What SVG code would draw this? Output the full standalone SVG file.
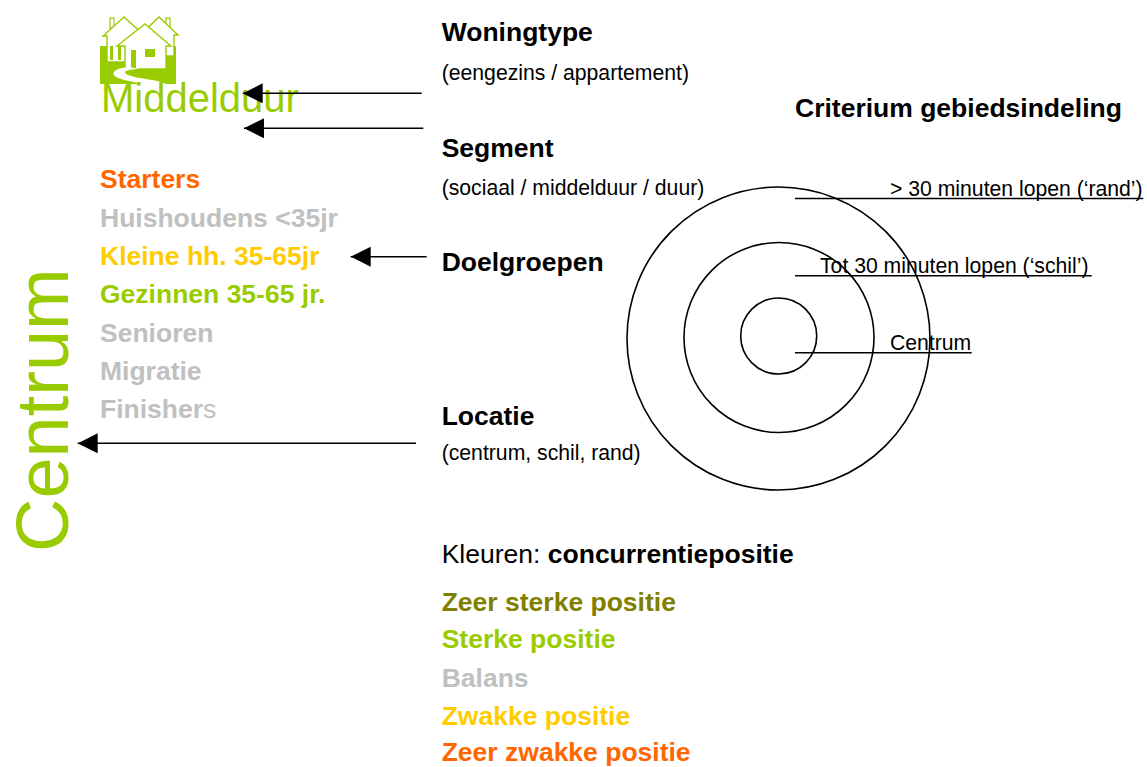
<svg xmlns="http://www.w3.org/2000/svg" width="1147" height="767" viewBox="0 0 1147 767">
<style>
text{font-family:"Liberation Sans",Arial,sans-serif;}
.b{font-weight:bold;font-size:26.5px;}
.r{font-size:21.2px;fill:#000;}
.k{fill:#000;}
.or{fill:#FF6600;}
.gr{fill:#C0C0C0;}
.ye{fill:#FFCC00;}
.gn{fill:#99CC00;}
.ol{fill:#808000;}
.ring{fill:none;stroke:#000;stroke-width:1.6;}
.ul{stroke:#000;stroke-width:1.6;}
.arr{stroke:#000;stroke-width:1.6;fill:none;marker-end:url(#ah);}
</style>
<defs>
<marker id="ah" markerUnits="userSpaceOnUse" markerWidth="20" markerHeight="20" refX="20" refY="10" orient="auto">
<path d="M0,0 L20,10 L0,20 Z" fill="#000"/>
</marker>
</defs>
<rect width="1147" height="767" fill="#fff"/>

<g id="logo">
<rect x="100" y="46" width="76" height="38" fill="#99CC00"/>
<rect x="110" y="18" width="4" height="10" fill="#fff" stroke="#99CC00" stroke-width="1.2"/>
<polygon points="103,36 124,17 145,36 141,36 141,62 107,62 107,36" fill="#fff" stroke="#99CC00" stroke-width="1.4"/>
<rect x="166" y="18" width="4" height="10" fill="#fff" stroke="#99CC00" stroke-width="1.2"/>
<polygon points="140,35 159,17 178,35 174,35 174,56 144,56 144,35" fill="#fff" stroke="#99CC00" stroke-width="1.4"/>
<polygon points="117,46 145,24 171,46 166,46 166,69 125,69 125,46" fill="#fff" stroke="#99CC00" stroke-width="1.4"/>
<rect x="145" y="49" width="10" height="8" fill="#99CC00"/>
<rect x="131" y="50" width="5" height="19" fill="#99CC00"/>
<rect x="110" y="46" width="3" height="14" fill="#99CC00"/>
<rect x="118" y="46" width="3" height="14" fill="#99CC00"/>
<path d="M114,72 C118,66 134,67 140,69 C130,69 120,71 128,75 C138,79 156,79 166,84 L142,84 C132,81 110,79 114,72 Z" fill="#fff"/>
</g>

<g id="middelduur"><text x="101" y="111.7" font-size="40" class="gn">Middelduur</text></g>
<g id="centrum-vertical"><text transform="translate(68,552) rotate(-90)" font-size="74" class="gn">Centrum</text></g>

<g id="doelgroepen-list">
<text x="100" y="188.3" class="b or">Starters</text>
<text x="100" y="226.7" class="b gr">Huishoudens &lt;35jr</text>
<text x="100" y="265" class="b ye">Kleine hh. 35-65jr</text>
<text x="100" y="303.3" class="b gn">Gezinnen 35-65 jr.</text>
<text x="100" y="341.7" class="b gr">Senioren</text>
<text x="100" y="380" class="b gr">Migratie</text>
<text x="100" y="418.3" class="b gr">Finisher<tspan font-weight="normal">s</tspan></text>
</g>

<g id="woningtype">
<text x="441.7" y="40.7" class="b k">Woningtype</text>
<text x="441.7" y="80" class="r">(eengezins / appartement)</text>
</g>
<g id="segment">
<text x="441.7" y="156.7" class="b k">Segment</text>
<text x="441.7" y="195" class="r">(sociaal / middelduur / duur)</text>
</g>
<g id="doelgroepen">
<text x="441.7" y="270.7" class="b k">Doelgroepen</text>
</g>
<g id="locatie">
<text x="441.7" y="425" class="b k">Locatie</text>
<text x="441.7" y="459.5" class="r">(centrum, schil, rand)</text>
</g>

<g id="criterium">
<text x="795" y="116.7" class="b k">Criterium gebiedsindeling</text>
<circle cx="778.5" cy="338.5" r="151.5" class="ring"/>
<circle cx="779" cy="337.5" r="95" class="ring"/>
<circle cx="778.7" cy="336" r="38" class="ring"/>
<line x1="795" y1="198.5" x2="1143.3" y2="198.5" class="ul"/>
<line x1="795" y1="275.7" x2="1091.7" y2="275.7" class="ul"/>
<line x1="795" y1="352.7" x2="971.7" y2="352.7" class="ul"/>
<text x="890" y="196" class="r">&gt; 30 minuten lopen (‘rand’)</text>
<text x="820" y="273.3" class="r">Tot 30 minuten lopen (‘schil’)</text>
<text x="890" y="350" class="r">Centrum</text>
</g>

<g id="legenda">
<text x="441.7" y="563.3" font-size="26.5" class="k">Kleuren: <tspan font-weight="bold">concurrentiepositie</tspan></text>
<text x="441.7" y="610.7" class="b ol">Zeer sterke positie</text>
<text x="441.7" y="648.3" class="b gn">Sterke positie</text>
<text x="441.7" y="686.7" class="b gr">Balans</text>
<text x="441.7" y="725" class="b ye">Zwakke positie</text>
<text x="441.7" y="760.5" class="b or">Zeer zwakke positie</text>
</g>

<g id="connectors">
<line x1="421.7" y1="93.3" x2="242.7" y2="93.3" class="arr"/>
<line x1="423.3" y1="128.3" x2="244" y2="128.3" class="arr"/>
<line x1="426.7" y1="256.7" x2="350.7" y2="256.7" class="arr"/>
<line x1="416" y1="443.3" x2="77.7" y2="443.3" class="arr"/>
</g>
</svg>
